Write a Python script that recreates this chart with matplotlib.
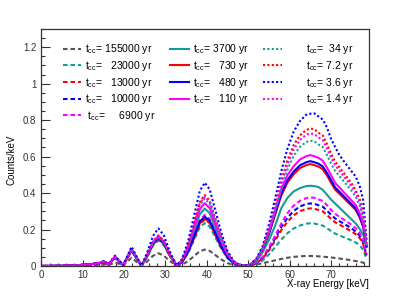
import matplotlib
matplotlib.use('Agg')
import matplotlib.pyplot as plt
from matplotlib.ticker import MultipleLocator

plt.rcParams['font.family'] = ['Liberation Sans', 'DejaVu Sans']

### data (counts/keV vs keV)
energy = [0, 5, 8, 10, 12, 14,
          15.2, 16.2, 17.8, 19.8, 21.8,
          24.2, 25.5, 27, 28.3, 29.6, 31, 32.7,
          34, 35.5, 37, 38.3, 39.5, 40.7, 42, 43.5, 45, 46.5, 48, 49.3,
          50.5, 52, 53.5, 55, 56.5, 58, 59.5, 61, 62.5, 64,
          65, 66, 67, 68, 69, 70, 71, 72, 73, 74, 75, 76, 77, 77.8, 78.6]

t155000 = [0, 0, 0.001, 0.002, 0.003, 0.005,
           0.008, 0.004, 0.02, 0.003, 0.045,
           0.002, 0.023, 0.056, 0.07, 0.057, 0.028, 0.003,
           0.007, 0.027, 0.056, 0.081, 0.09, 0.083, 0.061, 0.036, 0.016, 0.005, 0.001, 0.001,
           0.003, 0.008, 0.015, 0.023, 0.031, 0.039, 0.045, 0.05, 0.053, 0.055,
           0.055, 0.054, 0.053, 0.051, 0.049, 0.047, 0.044, 0.041, 0.038, 0.035, 0.031, 0.027, 0.023, 0.018, 0.01]
t23000 = [0, 0.001, 0.003, 0.006, 0.009, 0.014,
          0.02, 0.007, 0.045, 0.004, 0.08,
          0.002, 0.046, 0.112, 0.14, 0.115, 0.056, 0.003,
          0.019, 0.071, 0.146, 0.212, 0.235, 0.216, 0.16, 0.094, 0.042, 0.014, 0.003, 0.002,
          0.002, 0.012, 0.03, 0.063, 0.103, 0.145, 0.18, 0.206, 0.222, 0.232,
          0.234, 0.233, 0.227, 0.222, 0.208, 0.192, 0.178, 0.168, 0.159, 0.15, 0.14, 0.129, 0.112, 0.089, 0.04]
t13000 = [0, 0.001, 0.003, 0.006, 0.01, 0.015,
          0.022, 0.008, 0.047, 0.004, 0.085,
          0.002, 0.05, 0.12, 0.15, 0.123, 0.06, 0.003,
          0.02, 0.077, 0.158, 0.23, 0.255, 0.235, 0.173, 0.102, 0.046, 0.015, 0.003, 0.002,
          0.003, 0.016, 0.041, 0.085, 0.139, 0.196, 0.243, 0.278, 0.3, 0.313,
          0.316, 0.314, 0.307, 0.3, 0.281, 0.259, 0.24, 0.228, 0.215, 0.202, 0.19, 0.174, 0.152, 0.12, 0.054]
t10000 = [0, 0.001, 0.003, 0.006, 0.01, 0.015,
          0.022, 0.008, 0.047, 0.004, 0.087,
          0.002, 0.05, 0.12, 0.15, 0.123, 0.06, 0.003,
          0.021, 0.08, 0.164, 0.239, 0.265, 0.244, 0.18, 0.106, 0.048, 0.016, 0.003, 0.002,
          0.003, 0.017, 0.045, 0.093, 0.151, 0.213, 0.264, 0.302, 0.326, 0.34,
          0.343, 0.341, 0.333, 0.326, 0.305, 0.281, 0.261, 0.247, 0.233, 0.22, 0.206, 0.189, 0.165, 0.13, 0.058]
t6900 = [0, 0.001, 0.003, 0.006, 0.01, 0.015,
         0.023, 0.008, 0.048, 0.004, 0.088,
         0.002, 0.051, 0.124, 0.155, 0.127, 0.062, 0.003,
         0.022, 0.084, 0.174, 0.252, 0.28, 0.258, 0.19, 0.112, 0.05, 0.017, 0.003, 0.002,
         0.004, 0.019, 0.049, 0.102, 0.165, 0.233, 0.29, 0.331, 0.357, 0.372,
         0.376, 0.374, 0.365, 0.357, 0.335, 0.308, 0.286, 0.271, 0.256, 0.241, 0.226, 0.207, 0.18, 0.143, 0.064]
t3700 = [0, 0.001, 0.003, 0.006, 0.01, 0.016,
         0.024, 0.008, 0.05, 0.004, 0.09,
         0.002, 0.053, 0.128, 0.16, 0.131, 0.064, 0.003,
         0.025, 0.095, 0.195, 0.284, 0.315, 0.29, 0.214, 0.126, 0.057, 0.019, 0.004, 0.002,
         0.005, 0.026, 0.075, 0.141, 0.22, 0.317, 0.374, 0.409, 0.427, 0.438,
         0.44, 0.438, 0.433, 0.418, 0.392, 0.365, 0.343, 0.321, 0.299, 0.277, 0.255, 0.233, 0.202, 0.172, 0.106]
t730 = [0, 0.001, 0.003, 0.006, 0.01, 0.015,
        0.022, 0.008, 0.047, 0.004, 0.085,
        0.002, 0.05, 0.12, 0.15, 0.123, 0.06, 0.003,
        0.021, 0.078, 0.161, 0.234, 0.26, 0.239, 0.177, 0.104, 0.047, 0.016, 0.003, 0.002,
        0.006, 0.034, 0.089, 0.173, 0.28, 0.386, 0.458, 0.503, 0.537, 0.553,
        0.559, 0.553, 0.545, 0.531, 0.498, 0.458, 0.419, 0.397, 0.375, 0.352, 0.33, 0.307, 0.263, 0.212, 0.106]
t480 = [0, 0.001, 0.003, 0.006, 0.01, 0.015,
        0.023, 0.008, 0.048, 0.004, 0.087,
        0.002, 0.051, 0.124, 0.155, 0.127, 0.062, 0.003,
        0.022, 0.081, 0.167, 0.243, 0.27, 0.248, 0.184, 0.108, 0.049, 0.016, 0.003, 0.002,
        0.006, 0.035, 0.092, 0.178, 0.288, 0.397, 0.472, 0.518, 0.552, 0.569,
        0.575, 0.569, 0.561, 0.546, 0.512, 0.472, 0.431, 0.408, 0.385, 0.362, 0.339, 0.316, 0.27, 0.219, 0.109]
t110 = [0, 0.001, 0.003, 0.006, 0.01, 0.016,
        0.025, 0.008, 0.05, 0.004, 0.092,
        0.002, 0.054, 0.132, 0.165, 0.135, 0.066, 0.003,
        0.028, 0.104, 0.214, 0.311, 0.345, 0.317, 0.235, 0.138, 0.062, 0.021, 0.004, 0.002,
        0.006, 0.036, 0.097, 0.188, 0.304, 0.42, 0.499, 0.547, 0.584, 0.602,
        0.608, 0.602, 0.593, 0.578, 0.541, 0.499, 0.456, 0.432, 0.407, 0.383, 0.359, 0.334, 0.286, 0.231, 0.116]
t34 = [0, 0.001, 0.003, 0.006, 0.01, 0.016,
       0.025, 0.008, 0.05, 0.004, 0.09,
       0.002, 0.053, 0.128, 0.16, 0.131, 0.064, 0.003,
       0.03, 0.111, 0.229, 0.333, 0.37, 0.34, 0.252, 0.148, 0.067, 0.022, 0.004, 0.002,
       0.007, 0.034, 0.089, 0.185, 0.302, 0.426, 0.529, 0.605, 0.653, 0.68,
       0.687, 0.684, 0.666, 0.653, 0.611, 0.563, 0.522, 0.495, 0.467, 0.44, 0.412, 0.378, 0.33, 0.261, 0.117]
t7_2 = [0, 0.001, 0.003, 0.006, 0.01, 0.016,
        0.026, 0.008, 0.052, 0.004, 0.093,
        0.002, 0.055, 0.134, 0.168, 0.138, 0.067, 0.003,
        0.031, 0.117, 0.241, 0.35, 0.389, 0.358, 0.265, 0.156, 0.07, 0.023, 0.005, 0.002,
        0.008, 0.038, 0.098, 0.204, 0.332, 0.467, 0.581, 0.664, 0.716, 0.746,
        0.754, 0.75, 0.731, 0.716, 0.671, 0.618, 0.573, 0.543, 0.513, 0.483, 0.452, 0.415, 0.362, 0.287, 0.128]
t3_6 = [0, 0.001, 0.003, 0.007, 0.011, 0.017,
        0.029, 0.009, 0.057, 0.005, 0.106,
        0.002, 0.068, 0.165, 0.206, 0.169, 0.082, 0.003,
        0.037, 0.137, 0.283, 0.411, 0.457, 0.42, 0.311, 0.183, 0.082, 0.027, 0.005, 0.002,
        0.008, 0.042, 0.109, 0.226, 0.368, 0.519, 0.644, 0.737, 0.795, 0.829,
        0.835, 0.837, 0.82, 0.804, 0.762, 0.699, 0.653, 0.611, 0.578, 0.548, 0.519, 0.49, 0.435, 0.36, 0.142]
t1_4 = [0, 0.001, 0.003, 0.006, 0.01, 0.016,
        0.026, 0.008, 0.051, 0.004, 0.092,
        0.002, 0.054, 0.132, 0.165, 0.135, 0.066, 0.003,
        0.03, 0.114, 0.236, 0.342, 0.38, 0.35, 0.258, 0.152, 0.068, 0.023, 0.005, 0.002,
        0.007, 0.036, 0.095, 0.196, 0.32, 0.451, 0.56, 0.64, 0.691, 0.72,
        0.727, 0.723, 0.705, 0.691, 0.647, 0.596, 0.553, 0.523, 0.494, 0.465, 0.436, 0.4, 0.349, 0.276, 0.124]

### styles
GRAY, TEAL, RED, BLUE, MAG = '#555555', '#169c96', '#ff0000', '#0000ff', '#ff00ff'
DASH = (0, (2.2, 1.4))
DOT = (0, (1.0, 1.1))

series = [
    (t155000, GRAY, DASH, '$\\mathregular{t_{cc}}$= 155000 yr'),
    (t23000,  TEAL, DASH, '$\\mathregular{t_{cc}}$=   23000 yr'),
    (t13000,  RED,  DASH, '$\\mathregular{t_{cc}}$=   13000 yr'),
    (t10000,  BLUE, DASH, '$\\mathregular{t_{cc}}$=   10000 yr'),
    (t6900,   MAG,  DASH, ' $\\mathregular{t_{cc}}$=     6900 yr'),
    (t3700,   TEAL, '-',  '$\\mathregular{t_{cc}}$= 3700 yr'),
    (t730,    RED,  '-',  '$\\mathregular{t_{cc}}$=   730 yr'),
    (t480,    BLUE, '-',  '$\\mathregular{t_{cc}}$=   480 yr'),
    (t110,    MAG,  '-',  '$\\mathregular{t_{cc}}$=   110 yr'),
    (t34,     TEAL, DOT,  '       $\\mathregular{t_{cc}}$=  34 yr'),
    (t7_2,    RED,  DOT,  '       $\\mathregular{t_{cc}}$= 7.2 yr'),
    (t3_6,    BLUE, DOT,  '       $\\mathregular{t_{cc}}$= 3.6 yr'),
    (t1_4,    MAG,  DOT,  '       $\\mathregular{t_{cc}}$= 1.4 yr'),
]

fig = plt.figure(figsize=(4.11, 2.96), dpi=100)
ax = fig.add_axes([0.1005, 0.1014, 0.7973, 0.8007])

for vals, col, ls, lab in series:
    ax.plot(energy, vals, color=col, linestyle=ls, lw=1.5, label=lab)

### ROOT-like frame
ax.set_xlim(0, 79.2)
ax.set_ylim(0, 1.3)
ax.xaxis.set_major_locator(MultipleLocator(10))
ax.xaxis.set_minor_locator(MultipleLocator(2))
ax.yaxis.set_major_locator(MultipleLocator(0.2))
ax.yaxis.set_minor_locator(MultipleLocator(0.05))
ax.set_yticks([0, 0.2, 0.4, 0.6, 0.8, 1.0, 1.2])
ax.set_yticklabels(['0', '0.2', '0.4', '0.6', '0.8', '1', '1.2'])
ax.tick_params(which='both', direction='in', top=False, right=False,
               labelsize=7, colors='#333333', width=0.8)
ax.tick_params(axis='x', which='major', length=4, pad=3)
ax.tick_params(axis='x', which='minor', length=2)
ax.tick_params(axis='y', which='major', length=6.5, pad=3.5)
ax.tick_params(axis='y', which='minor', length=3.2)
for sp in ax.spines.values():
    sp.set_color('#333333')
    sp.set_linewidth(0.9)

ax.set_xlabel('X-ray Energy [keV]', fontsize=7, loc='right')
ax.xaxis.set_label_coords(1.0, -0.055)
ax.set_ylabel('Counts/keV', fontsize=7)
ax.yaxis.set_label_coords(-0.077, 0.447)

ax.legend(loc='upper left', bbox_to_anchor=(0.05, 0.965), ncol=3, frameon=False,
          fontsize=7.5, borderpad=0, handlelength=1.75, handletextpad=0.4,
          columnspacing=1.4, labelspacing=0.25)

fig.savefig('out.png', dpi=100)
